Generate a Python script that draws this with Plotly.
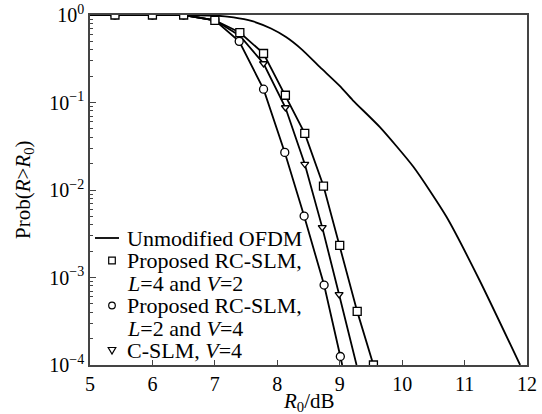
import plotly.graph_objects as go

# ---- data ----
ofdm_x = [5.0, 6.0, 6.5, 7.0, 7.3, 7.6, 7.9, 8.14, 8.4, 8.68, 9.0, 9.21, 9.64, 10.18, 10.71, 11.24, 11.89]
ofdm_y = [1.0, 1.0, 1.0, 0.985, 0.94, 0.85, 0.70, 0.56, 0.40, 0.255, 0.155, 0.106, 0.0526, 0.0184, 0.00494, 0.00093, 0.0001]

sq_x = [5.0, 5.4, 6.0, 6.5, 7.0, 7.4, 7.78, 8.13, 8.44, 8.74, 9.0, 9.28, 9.54]
sq_y = [1.0, 1.0, 1.0, 1.0, 0.87, 0.63, 0.363, 0.121, 0.0443, 0.0111, 0.00233, 0.00041, 0.0001]

ci_x = [5.0, 5.4, 6.0, 6.5, 7.0, 7.39, 7.78, 8.12, 8.43, 8.75, 9.01, 9.04]
ci_y = [1.0, 1.0, 1.0, 1.0, 0.87, 0.50, 0.142, 0.0269, 0.00504, 0.00082, 0.000125, 0.0001]

tr_x = [5.0, 5.4, 6.0, 6.5, 7.0, 7.4, 7.78, 8.13, 8.44, 8.72, 8.99, 9.27]
tr_y = [1.0, 1.0, 1.0, 1.0, 0.87, 0.58, 0.279, 0.0877, 0.0198, 0.00374, 0.00064, 0.0001]

# which points carry a marker (line endpoints on the frame carry none)
sq_mk = slice(1, 13)
ci_mk = slice(1, 11)
tr_mk = slice(1, 11)

x_ticks = [5, 6, 7, 8, 9, 10, 11, 12]
y_tickvals = [1, 0.1, 0.01, 0.001, 0.0001]
y_ticktext = ["10<sup>0</sup>", "10<sup>\u22121</sup>", "10<sup>\u22122</sup>",
              "10<sup>\u22123</sup>", "10<sup>\u22124</sup>"]
y_minor = [m * 10 ** e for e in range(-4, 0) for m in range(2, 10)]

legend_lines = ["Unmodified OFDM",
                "Proposed RC-SLM,",
                "<i>L</i>=4 and <i>V</i>=2",
                "Proposed RC-SLM,",
                "<i>L</i>=2 and <i>V</i>=4",
                "C-SLM, <i>V</i>=4"]

FONT = "Liberation Serif, Times New Roman, serif"
LW = 1.8
W, H = 542, 414
ML, MR, MT, MB = 90, 15, 15, 49
PW, PH = W - ML - MR, H - MT - MB


def px(x):  # pixel -> paper x
    return (x - ML) / PW


def py(y):  # pixel -> paper y
    return (H - MB - y) / PH


fig = go.Figure()

for xs, ys in [(tr_x, tr_y), (ci_x, ci_y), (sq_x, sq_y)]:
    fig.add_trace(go.Scatter(x=xs, y=ys, mode="lines", line=dict(color="black", width=LW),
                             hoverinfo="skip"))

fig.add_trace(go.Scatter(x=ofdm_x, y=ofdm_y, mode="lines",
                         line=dict(color="black", width=LW, shape="spline", smoothing=0.6)))

mk_line = dict(color="black", width=1.3)
fig.add_trace(go.Scatter(x=tr_x[tr_mk], y=tr_y[tr_mk], mode="markers",
                         marker=dict(symbol="triangle-down", size=7, color="white", line=mk_line)))
fig.add_trace(go.Scatter(x=ci_x[ci_mk], y=ci_y[ci_mk], mode="markers",
                         marker=dict(symbol="circle", size=8, color="white", line=mk_line)))
fig.add_trace(go.Scatter(x=sq_x[sq_mk], y=sq_y[sq_mk], mode="markers",
                         marker=dict(symbol="square", size=8, color="white", line=mk_line)))

axis_line = dict(showline=True, linecolor="#444", linewidth=1.5, mirror=True, showgrid=False,
                 zeroline=False, automargin=False)

fig.update_xaxes(range=[5, 12], tickvals=x_ticks, ticks="inside", ticklen=5, tickcolor="#444",
                 tickfont=dict(family=FONT, size=20, color="black"), **axis_line)
fig.update_yaxes(type="log", range=[-4, 0], tickvals=y_tickvals, ticktext=y_ticktext, ticks="inside",
                 ticklen=6, tickcolor="#444",
                 minor=dict(tickvals=y_minor, ticks="inside", ticklen=3, tickcolor="#444"),
                 tickfont=dict(family=FONT, size=20, color="black"), **axis_line)

# ---- legend drawn by hand (tight line spacing like the reference) ----
shapes = []
line_ys = [238, 260.5, 283, 305.5, 328, 350.5]
shapes.append(dict(type="line", xref="paper", yref="paper", x0=px(95), x1=px(119),
                   y0=py(line_ys[0]), y1=py(line_ys[0]), line=dict(color="black", width=LW)))
s = 3.3
cx = 112
cy = line_ys[1]
shapes.append(dict(type="rect", xref="paper", yref="paper", x0=px(cx - s), x1=px(cx + s),
                   y0=py(cy + s), y1=py(cy - s), line=dict(color="black", width=1.2), fillcolor="white"))
cy = line_ys[3]
shapes.append(dict(type="circle", xref="paper", yref="paper", x0=px(cx - s), x1=px(cx + s),
                   y0=py(cy + s), y1=py(cy - s), line=dict(color="black", width=1.2), fillcolor="white"))
cy = line_ys[5]
shapes.append(dict(type="path", xref="paper", yref="paper",
                   path=f"M {px(cx - 3.8)} {py(cy - 3)} L {px(cx + 3.8)} {py(cy - 3)} L {px(cx)} {py(cy + 3.5)} Z",
                   line=dict(color="black", width=1.2), fillcolor="white"))

annotations = []
for t, yy in zip(legend_lines, line_ys):
    annotations.append(dict(text=t, xref="paper", yref="paper", x=px(125), y=py(yy),
                            xanchor="left", yanchor="middle", showarrow=False,
                            font=dict(family=FONT, size=22, color="black")))

annotations.append(dict(text="<i>R</i><sub>0</sub>/dB", xref="paper", yref="paper",
                        x=0.5, y=py(402), xanchor="center", yanchor="middle", showarrow=False,
                        font=dict(family=FONT, size=21, color="black")))
annotations.append(dict(text="Prob(<i>R</i>><i>R</i><sub>0</sub>)", xref="paper", yref="paper",
                        x=px(24), y=0.5, xanchor="center", yanchor="middle", showarrow=False,
                        textangle=-90, font=dict(family=FONT, size=21, color="black")))

fig.update_layout(
    width=W, height=H,
    margin=dict(l=ML, r=MR, t=MT, b=MB),
    paper_bgcolor="white", plot_bgcolor="white",
    font=dict(family=FONT, color="black"),
    showlegend=False,
    shapes=shapes, annotations=annotations,
)

fig.write_html("out.html", config={"displayModeBar": False},
               post_script="document.body.style.margin='0';document.body.style.overflow='hidden';")
